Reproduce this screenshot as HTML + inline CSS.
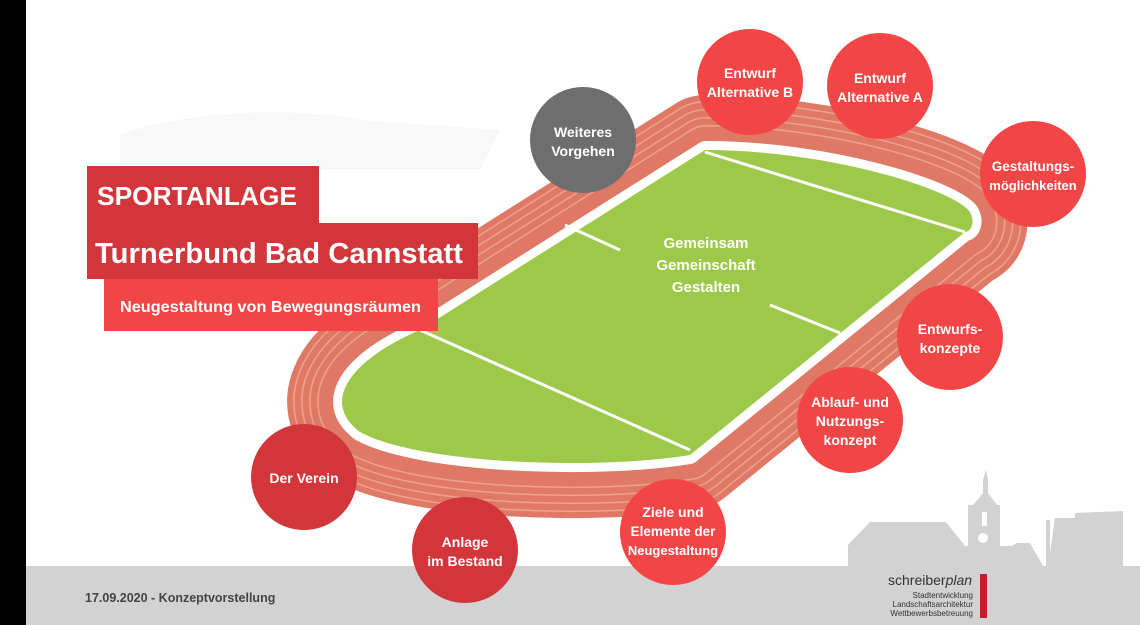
<!DOCTYPE html>
<html><head><meta charset="utf-8"><style>
body{margin:0;width:1140px;height:625px;overflow:hidden;background:#fff;font-family:"Liberation Sans",sans-serif}
</style></head><body>
<svg width="1140" height="625" xmlns="http://www.w3.org/2000/svg" style="position:absolute;left:0;top:0">
<defs>
<path id="fld" d="M705,150 C830,150 955,190 970,212 C976,224 970,232 965,232 L690,455 C600,470 420,465 360,432 C320,402 350,360 420,330 Z"/>
</defs>
<rect x="0" y="0" width="26" height="625" fill="#000"/>
<path d="M120,135 C200,105 320,110 360,120 L500,130 L480,170 L120,170 Z" fill="#f8f8f8"/>
<rect x="26" y="566" width="1114" height="59" fill="#d2d2d2"/>
<path d="M848,566 L848,545 L870,522 L946,522 L965,546 L968,546 L968,505 L973,505 L983,493 L983,480 L986,470 L988,480 L988,493 L997,505 L1000,505 L1000,546 L1012,546 L1017,543 L1030,543 L1043,566 Z" fill="#d2d2d2"/>
<rect x="1046" y="520" width="4" height="46" fill="#d2d2d2"/>
<path d="M1048,566 L1055,518 L1075,518 L1075,513 L1123,511 L1123,566 Z" fill="#d2d2d2"/>
<rect x="982" y="512" width="5" height="14" fill="#fff"/><circle cx="983" cy="538" r="5" fill="#fff"/>
<g fill="none" stroke-linejoin="round">
<use href="#fld" stroke="#e07866" stroke-width="110"/>
<use href="#fld" stroke="#eca292" stroke-width="98"/>
<use href="#fld" stroke="#e07866" stroke-width="95"/>
<use href="#fld" stroke="#eca292" stroke-width="82"/>
<use href="#fld" stroke="#e07866" stroke-width="79"/>
<use href="#fld" stroke="#eca292" stroke-width="66"/>
<use href="#fld" stroke="#e07866" stroke-width="63"/>
<use href="#fld" stroke="#eca292" stroke-width="50"/>
<use href="#fld" stroke="#e07866" stroke-width="47"/>
<use href="#fld" stroke="#fff" stroke-width="18"/>
</g>
<use href="#fld" fill="#9dc94a"/>
<g stroke="#fff" stroke-width="3">
<line x1="705" y1="152" x2="965" y2="232"/>
<line x1="420" y1="330" x2="690" y2="450"/>
<line x1="565" y1="225" x2="620" y2="250"/>
<line x1="770" y1="305" x2="840" y2="333"/>
</g>
<g font-weight="bold" fill="#fff" text-anchor="middle" font-size="14">
<text x="706" y="248" font-size="15">Gemeinsam</text><text x="706" y="270" font-size="15">Gemeinschaft</text><text x="706" y="292" font-size="15">Gestalten</text>
<circle cx="750" cy="82" r="53" fill="#f24545"/><text x="750" y="78">Entwurf</text><text x="750" y="97">Alternative B</text>
<circle cx="880" cy="86" r="53" fill="#f24545"/><text x="880" y="83">Entwurf</text><text x="880" y="102">Alternative A</text>
<circle cx="1033" cy="174" r="53" fill="#f24545"/><text x="1033" y="171" font-size="13.5">Gestaltungs-</text><text x="1033" y="190" font-size="13">möglichkeiten</text>
<circle cx="583" cy="140" r="53" fill="#6e6e6e"/><text x="583" y="137">Weiteres</text><text x="583" y="156">Vorgehen</text>
<circle cx="950" cy="337" r="53" fill="#f24545"/><text x="950" y="334">Entwurfs-</text><text x="950" y="353">konzepte</text>
<circle cx="850" cy="420" r="53" fill="#f24545"/><text x="850" y="407">Ablauf- und</text><text x="850" y="426">Nutzungs-</text><text x="850" y="445">konzept</text>
<circle cx="673" cy="532" r="53" fill="#f24545"/><text x="673" y="517">Ziele und</text><text x="673" y="536" font-size="13.5">Elemente der</text><text x="673" y="555" font-size="13">Neugestaltung</text>
<circle cx="465" cy="550" r="53" fill="#d2363a"/><text x="465" y="547">Anlage</text><text x="465" y="566">im Bestand</text>
<circle cx="304" cy="477" r="53" fill="#d2363a"/><text x="304" y="483">Der Verein</text>
</g>
<rect x="87" y="166" width="232" height="58" fill="#d2363a"/>
<rect x="87" y="223" width="391" height="56" fill="#d2363a"/>
<rect x="104" y="279" width="334" height="52" fill="#f24545"/>
<g fill="#fff" font-weight="bold">
<text x="97" y="205" font-size="26" textLength="200" lengthAdjust="spacingAndGlyphs">SPORTANLAGE</text>
<text x="95" y="263" font-size="29" textLength="368" lengthAdjust="spacingAndGlyphs">Turnerbund Bad Cannstatt</text>
<text x="120" y="312" font-size="16" textLength="301" lengthAdjust="spacingAndGlyphs">Neugestaltung von Bewegungsräumen</text>
</g>
<text x="85" y="602" font-size="12.5" fill="#444" font-weight="bold">17.09.2020 - Konzeptvorstellung</text>
<text x="888" y="585" font-size="14" fill="#333">schreiber<tspan font-style="italic">plan</tspan></text>
<g font-size="8" fill="#333" text-anchor="end"><text x="973" y="598">Stadtentwicklung</text><text x="973" y="607">Landschaftsarchitektur</text><text x="973" y="616">Wettbewerbsbetreuung</text></g>
<rect x="980" y="574" width="7" height="44" fill="#c0202a"/>
</svg>
</body></html>
